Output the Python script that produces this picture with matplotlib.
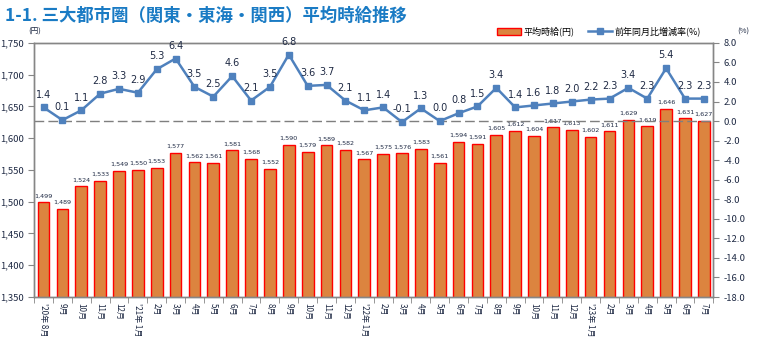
import numpy as np
import matplotlib.pyplot as plt
from matplotlib.patches import Patch
from matplotlib.lines import Line2D

plt.rcParams['font.family'] = ['Noto Sans CJK JP', 'DejaVu Sans']

# 月ラベル（'20年8月〜'23年7月）
months = ["'20年 8月", "9月", "10月", "11月", "12月",
          "'21年 1月", "2月", "3月", "4月", "5月", "6月", "7月", "8月", "9月", "10月", "11月", "12月",
          "'22年 1月", "2月", "3月", "4月", "5月", "6月", "7月", "8月", "9月", "10月", "11月", "12月",
          "'23年 1月", "2月", "3月", "4月", "5月", "6月", "7月"]

# 平均時給（円）
wage = [1499, 1489, 1524, 1533, 1549,
        1550, 1553, 1577, 1562, 1561, 1581, 1568, 1552, 1590, 1579, 1589, 1582,
        1567, 1575, 1576, 1583, 1561, 1594, 1591, 1605, 1612, 1604, 1617, 1613,
        1602, 1611, 1629, 1619, 1646, 1631, 1627]

# 前年同月比増減率（%）
yoy = [1.4, 0.1, 1.1, 2.8, 3.3,
       2.9, 5.3, 6.4, 3.5, 2.5, 4.6, 2.1, 3.5, 6.8, 3.6, 3.7, 2.1,
       1.1, 1.4, -0.1, 1.3, 0.0, 0.8, 1.5, 3.4, 1.4, 1.6, 1.8, 2.0,
       2.2, 2.3, 3.4, 2.3, 5.4, 2.3, 2.3]

bar_color = '#DC843F'
line_color = '#4F81BD'
axis_color = '#868686'
label_color = '#1F2A44'

x = np.arange(len(months))

fig = plt.figure(figsize=(7.58, 3.43), dpi=100)
ax = fig.add_axes([0.045, 0.134, 0.896, 0.741])
ax2 = ax.twinx()

ax.bar(x, wage, width=0.62, color=bar_color, edgecolor='#FF0000', linewidth=1.0, zorder=2)
for xi, v in zip(x, wage):
    ax.text(xi, v + 6, f'{v:,}', ha='center', va='bottom', fontsize=4.6,
            color=label_color, family='DejaVu Sans')

ax.set_ylim(1350, 1750)
ax.set_yticks(np.arange(1350, 1751, 50))
ax.set_yticklabels([f'{v:,}' for v in range(1350, 1751, 50)])
ax.set_xlim(-0.5, len(months) - 0.5)
ax.set_xticks(x)
ax.set_xticklabels(months, rotation=-90, fontsize=5.8, color=label_color,
                   linespacing=1.0)
ax.set_xticks(np.arange(-0.5, len(months)), minor=True)
ax.tick_params(axis='x', which='major', length=0, pad=4)
ax.tick_params(axis='x', which='minor', length=4, color=axis_color, direction='out')
ax.tick_params(axis='y', labelsize=6.8, colors=label_color, length=4, color=axis_color)

ax2.axhline(0, color='#7F7F7F', linestyle=(0, (7, 3)), linewidth=1.0, zorder=1)
ax2.plot(x, yoy, color=line_color, linewidth=1.8, marker='s', markersize=4.5, zorder=3)
for xi, v in zip(x, yoy):
    ax2.text(xi, v + 0.8, f'{v:.1f}', ha='center', va='bottom', fontsize=7,
             color=label_color, family='DejaVu Sans')
ax2.set_ylim(-18, 8)
ax2.set_yticks(np.arange(-18, 8.1, 2))
ax2.set_yticklabels([f'{v:.1f}' for v in np.arange(-18, 8.1, 2)])
ax2.tick_params(axis='y', labelsize=6.8, colors=label_color, length=4, color=axis_color)

for a in (ax, ax2):
    for s in a.spines.values():
        s.set_color(axis_color)
        s.set_linewidth(1.0)

fig.text(0.006, 0.953, '1-1. 三大都市圏（関東・東海・関西）平均時給推移', fontsize=12.5,
         fontweight='bold', color='#1A7BC4', va='center')
fig.text(0.037, 0.908, '(円)', fontsize=5.5, color=label_color, va='center')
fig.text(0.972, 0.908, '(%)', fontsize=5.5, color=label_color, va='center')

handles = [Patch(facecolor=bar_color, edgecolor='#FF0000', linewidth=1.0),
           Line2D([0], [0], color=line_color, linewidth=1.8, marker='s', markersize=4)]
fig.legend(handles, ['平均時給(円)', '前年同月比増減率(%)'], loc='center right',
           bbox_to_anchor=(0.935, 0.908), ncol=2, frameon=False, fontsize=6.5,
           handlelength=2.6, handleheight=0.7, columnspacing=1.5, handletextpad=0.3)

fig.savefig('out.png', dpi=100)
